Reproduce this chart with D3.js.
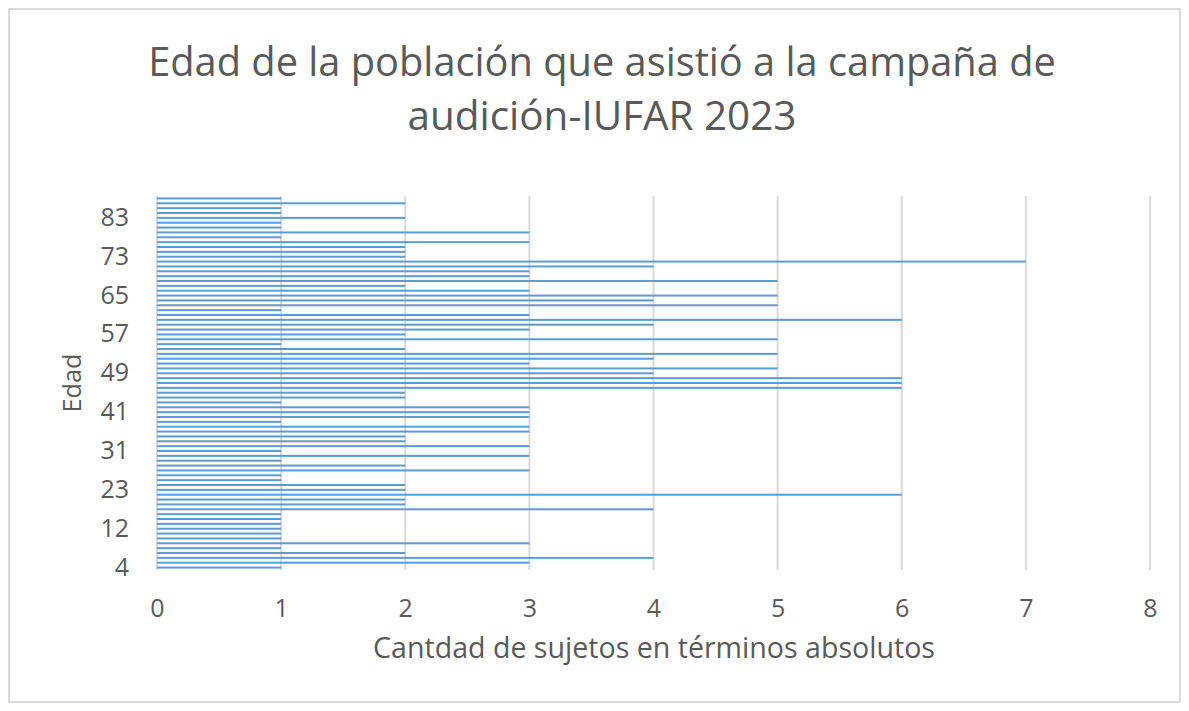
<!DOCTYPE html>
<html>
<head>
<meta charset="utf-8">
<script src="https://cdn.jsdelivr.net/npm/d3@7"></script>
<style>
  body { margin: 0; background: #fff; }
  text { font-family: "Open Sans", sans-serif; fill: #595959; }
</style>
</head>
<body>
<svg id="chart" width="1189" height="711"></svg>
<script>
// Categories (ages, bottom to top) and counts
const ages = [4, 5, 6, 7, 8, 9, 10, 11, 12,
  14, 15, 16, 17, 18, 19, 21, 23,
  24, 25, 26, 27, 28, 29, 30, 31,
  32, 33, 34, 35, 37, 38, 39, 41,
  42, 43, 44, 45, 46, 47, 48, 49,
  50, 51, 52, 53, 54, 55, 56, 57,
  58, 59, 60, 61, 62, 63, 64, 65,
  66, 67, 68, 69, 70, 71, 72, 73,
  74, 75, 76, 77, 78, 79, 81, 83,
  84, 85, 86, 87];

const counts = [1, 3, 4, 2, 1, 3, 1, 1, 1, 1,
  1, 1, 4, 2, 2, 6, 2, 2, 1, 1,
  3, 2, 1, 3, 1, 3, 2, 2, 3, 3,
  1, 3, 3, 3, 1, 2, 2, 6, 6, 6,
  4, 5, 3, 4, 5, 2, 1, 5, 2, 3,
  4, 6, 3, 1, 5, 4, 5, 3, 2, 5,
  3, 3, 4, 7, 2, 2, 2, 3, 1, 3,
  1, 1, 2, 1, 1, 2, 1];

const xTicks = [0, 1, 2, 3, 4, 5, 6, 7, 8];
const titleLines = ["Edad de la población que asistió a la campaña de", "audición-IUFAR 2023"];
const xTitle = "Cantdad de sujetos en términos absolutos";
const yTitle = "Edad";

const data = ages.map((a, i) => ({ age: String(a), count: counts[i] }));

const plot = { left: 157, right: 1150, top: 196, bottom: 570 };

const svg = d3.select("#chart");

// Chart border
svg.append("rect")
    .attr("x", 9).attr("y", 9)
    .attr("width", 1171).attr("height", 693)
    .attr("fill", "#fff")
    .attr("stroke", "#d9d9d9")
    .attr("stroke-width", 2);

// shrink/grow a text so it spans a given width
function fitWidth(sel, target) {
  const w = sel.node().getComputedTextLength();
  const fs = parseFloat(sel.style("font-size"));
  sel.style("font-size", (fs * target / w) + "px");
}

// Title
const title = svg.append("g");
title.append("text")
    .attr("x", 602).attr("y", 76)
    .attr("text-anchor", "middle")
    .style("font-size", "40px")
    .text(titleLines[0])
    .call(fitWidth, 908);
title.append("text")
    .attr("x", 602).attr("y", 130)
    .attr("text-anchor", "middle")
    .style("font-size", "40px")
    .text(titleLines[1])
    .call(fitWidth, 389);

// Scales
const x = d3.scaleLinear()
    .domain([0, 8])
    .range([plot.left, plot.right]);

const y = d3.scaleBand()
    .domain(data.map(d => d.age))
    .range([plot.bottom, plot.top])
    .padding(0);

// Vertical gridlines
svg.append("g")
  .selectAll("line")
  .data(xTicks)
  .enter()
  .append("line")
    .attr("x1", d => x(d)).attr("x2", d => x(d))
    .attr("y1", plot.top).attr("y2", plot.bottom)
    .attr("stroke", "#d9d9d9")
    .attr("stroke-width", 2);

// Bars (thin)
const barH = 2;
svg.append("g")
  .selectAll("rect")
  .data(data)
  .enter()
  .append("rect")
    .attr("x", x(0))
    .attr("y", d => y(d.age) + y.bandwidth() / 2 - barH / 2)
    .attr("width", d => x(d.count) - x(0))
    .attr("height", barH)
    .attr("fill", "#5b9bd5");

// X axis
const xAxis = svg.append("g")
    .attr("transform", `translate(0,${plot.bottom})`)
    .call(d3.axisBottom(x).tickValues(xTicks).tickSize(0));
xAxis.select(".domain").remove();
xAxis.selectAll("text")
    .attr("y", 47).attr("dy", 0)
    .style("font-size", "25px")
    .style("font-family", "'Open Sans', sans-serif")
    .attr("fill", "#595959");

// Y axis, every 8th category labelled
const yAxis = svg.append("g")
    .attr("transform", `translate(${plot.left},0)`)
    .call(d3.axisLeft(y)
      .tickValues(data.filter((d, i) => i % 8 === 0).map(d => d.age))
      .tickSize(0)
      .tickPadding(28));
yAxis.select(".domain").remove();
yAxis.selectAll("text")
    .style("font-size", "25px")
    .style("font-family", "'Open Sans', sans-serif")
    .attr("fill", "#595959");

// Axis titles
svg.append("text")
    .attr("x", 654).attr("y", 658)
    .attr("text-anchor", "middle")
    .style("font-size", "25px")
    .text(xTitle)
    .call(fitWidth, 562);

svg.append("text")
    .attr("transform", "translate(81,383) rotate(-90)")
    .attr("text-anchor", "middle")
    .style("font-size", "25px")
    .text(yTitle)
    .call(fitWidth, 59);
</script>
</body>
</html>
